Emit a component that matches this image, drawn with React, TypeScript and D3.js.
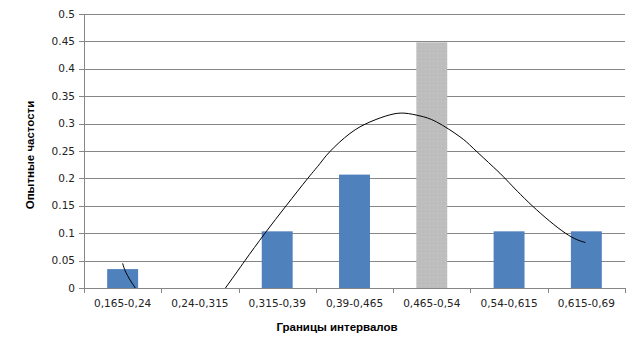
import React from "react";
import * as d3 from "d3";

const categories = ["0,165-0,24", "0,24-0,315", "0,315-0,39", "0,39-0,465", "0,465-0,54", "0,54-0,615", "0,615-0,69"];
const frequencies = [0.0345, 0, 0.1034, 0.2069, 0.4483, 0.1034, 0.1034];
const highlighted = [false, false, false, false, true, false, false];
const yTicks = [0, 0.05, 0.1, 0.15, 0.2, 0.25, 0.3, 0.35, 0.4, 0.45, 0.5];
const yTickLabels = ["0", "0.05", "0.1", "0.15", "0.2", "0.25", "0.3", "0.35", "0.4", "0.45", "0.5"];
// smoothed curve: x in category units (1 = first category centre)
const curveX = [1.0, 1.164, 1.75, 2.33, 2.583, 2.842, 3.115, 3.395, 3.553, 3.682, 3.941, 4.2, 4.458, 4.653, 4.847, 5.063, 5.364, 5.536, 5.795, 5.968, 6.3, 6.729, 6.987];
const curveY = [0.045, 0, -0.068, 0, 0.05, 0.1, 0.15, 0.2, 0.227, 0.249, 0.282, 0.303, 0.316, 0.319, 0.314, 0.303, 0.276, 0.255, 0.221, 0.197, 0.15, 0.1, 0.083];
const xTitle = "Границы интервалов";
const yTitle = "Опытные частости";

const W = 637, H = 354;
const L = 84, R = 625, T = 14, B = 288;

export default function App() {
  const x = d3.scaleBand<string>().domain(categories).range([L, R]).paddingInner(0.6).paddingOuter(0.3);
  const xc = d3.scaleLinear().domain([0.5, categories.length + 0.5]).range([L, R]);
  const y = d3.scaleLinear().domain([0, 0.5]).range([B, T]);
  const step = (R - L) / categories.length;
  const line = d3.line<number>().x((_, i) => xc(curveX[i])).y((d) => y(d)).curve(d3.curveNatural);
  const font = "'DejaVu Sans', Verdana, sans-serif";
  return (
    <svg width={W} height={H} style={{ position: "absolute", left: 0, top: 0, background: "#fff" }}>
      <defs>
        <pattern id="dots" width="4" height="4" patternUnits="userSpaceOnUse">
          <rect width="4" height="4" fill="#BDBDBD" />
          <rect x="1" y="1" width="1" height="1" fill="#C9C9C9" />
        </pattern>
        <clipPath id="plot">
          <rect x={L} y={T} width={R - L} height={B - T} />
        </clipPath>
      </defs>
      <rect width={W} height={H} fill="#fff" />
      {yTicks.map((t, i) => (
        <g key={i}>
          <line x1={L - 5} x2={R} y1={Math.round(y(t)) + 0.5} y2={Math.round(y(t)) + 0.5} stroke="#868686" strokeWidth={1} />
          <text x={L - 9} y={y(t)} dy="0.35em" textAnchor="end" fontFamily={font} fontSize={10.5} fill="#222">{yTickLabels[i]}</text>
        </g>
      ))}
      <line x1={L + 0.5} x2={L + 0.5} y1={T} y2={B + 5} stroke="#868686" />
      {d3.range(categories.length + 1).map((i) => (
        <line key={i} x1={Math.round(L + i * step) + 0.5} x2={Math.round(L + i * step) + 0.5} y1={B} y2={B + 5} stroke="#868686" />
      ))}
      {categories.map((c, i) => (
        <rect key={c} x={x(c)} y={y(frequencies[i])} width={x.bandwidth()} height={B - y(frequencies[i])} fill={highlighted[i] ? "url(#dots)" : "#4F81BD"} />
      ))}
      {categories.map((c) => (
        <text key={c} x={(x(c) as number) + x.bandwidth() / 2} y={307} textAnchor="middle" fontFamily={font} fontSize={10.5} fill="#222">{c}</text>
      ))}
      <path d={line(curveY) || ""} fill="none" stroke="#000" strokeWidth={1} clipPath="url(#plot)" />
      <text x={337} y={331} textAnchor="middle" fontFamily="'Liberation Sans', Arial, sans-serif" fontWeight="bold" fontSize={11.5} fill="#000">{xTitle}</text>
      <text transform={`translate(34,155) rotate(-90)`} textAnchor="middle" fontFamily="'Liberation Sans', Arial, sans-serif" fontWeight="bold" fontSize={11.5} fill="#000">{yTitle}</text>
    </svg>
  );
}
